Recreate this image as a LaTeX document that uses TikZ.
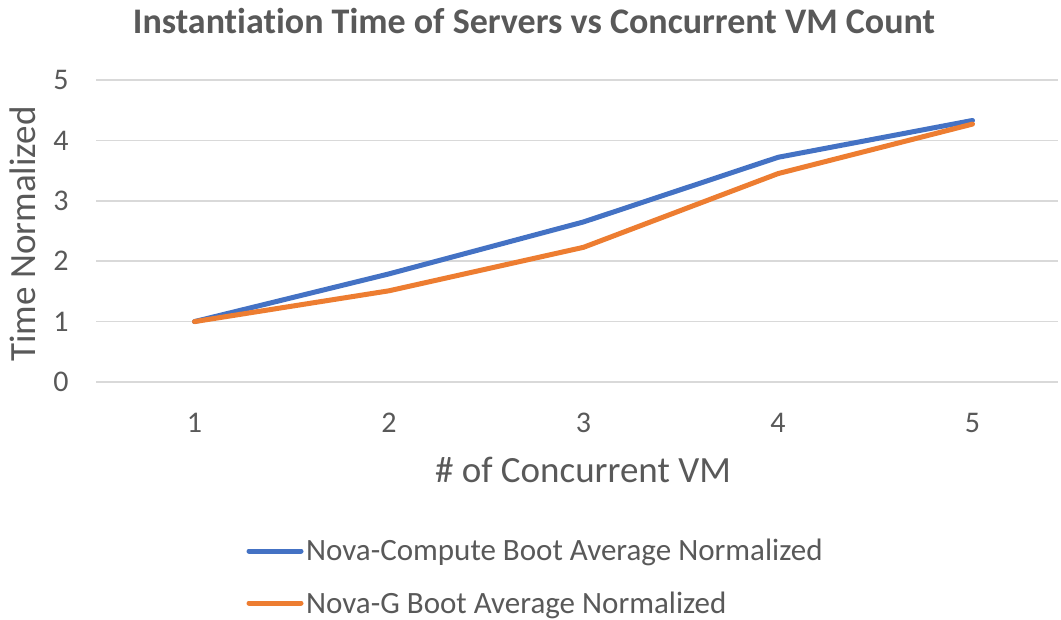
\documentclass[tikz,border=0pt]{standalone}
\usepackage{fontspec}
\setmainfont{Carlito}[Ligatures={NoCommon}]
\definecolor{txt}{HTML}{595959}
\definecolor{gridc}{HTML}{D9D9D9}
\definecolor{serblue}{HTML}{4472C4}
\definecolor{serorange}{HTML}{ED7D31}
\tikzset{
  gridline/.style={draw=gridc, line width=1.6pt},
  tick/.style={text=txt, font=\fontsize{30}{30}\selectfont, inner sep=0pt},
  axtitle/.style={text=txt, font=\fontsize{37}{37}\selectfont, inner sep=0pt, anchor=base},
  legtext/.style={text=txt, font=\fontsize{31}{31}\selectfont, inner sep=0pt, anchor=base west},
  series/.style={line width=5pt, line cap=round, line join=round},
}
\begin{document}
\begin{tikzpicture}[x=1pt,y=-1pt]
\useasboundingbox[fill=white] (0,0) rectangle (1061,620);
% title
\node[text=txt, font=\bfseries\fontsize{36}{36}\selectfont, inner sep=0pt, anchor=base] (title) at (534,34) {Instantiation Time of Servers vs Concurrent VM Count};
% grid and y ticks
\foreach \v in {0,...,5} {
  \coordinate (gl\v) at (96,{382-60.4*\v});
  \coordinate (gr\v) at (1058,{382-60.4*\v});
  \draw[gridline] (gl\v) -- (gr\v);
  \node[tick] (yt\v) at (61,{382-60.4*\v}) {\v};
}
% x ticks
\foreach \i in {1,...,5} {
  \node[tick, anchor=base] (xt\i) at ({194.5*\i},432) {\i};
}
% axis titles
\node[axtitle, rotate=90] (ytitle) at (35,234) {Time Normalized};
\node[axtitle] (xtitle) at (583,482.5) {\# of Concurrent VM};
% data
\coordinate (b1) at (194.5,{382-60.4*1});
\coordinate (b2) at (389,{382-60.4*1.79});
\coordinate (b3) at (583.5,{382-60.4*2.65});
\coordinate (b4) at (778,{382-60.4*3.72});
\coordinate (b5) at (972.5,{382-60.4*4.33});
\coordinate (o1) at (194.5,{382-60.4*1});
\coordinate (o2) at (389,{382-60.4*1.51});
\coordinate (o3) at (583.5,{382-60.4*2.23});
\coordinate (o4) at (778,{382-60.4*3.45});
\coordinate (o5) at (972.5,{382-60.4*4.27});
\draw[series, serblue] (b1) -- (b2) -- (b3) -- (b4) -- (b5);
\draw[series, serorange] (o1) -- (o2) -- (o3) -- (o4) -- (o5);
% legend
\coordinate (lb1) at (249,551);
\coordinate (lb2) at (301,551);
\draw[series, serblue] (lb1) -- (lb2);
\node[legtext] (lbt) at (306,560) {Nova-Compute Boot Average Normalized};
\coordinate (lo1) at (249,603);
\coordinate (lo2) at (301,603);
\draw[series, serorange] (lo1) -- (lo2);
\node[legtext] (lot) at (306,613) {Nova-G Boot Average Normalized};
\end{tikzpicture}
\end{document}
